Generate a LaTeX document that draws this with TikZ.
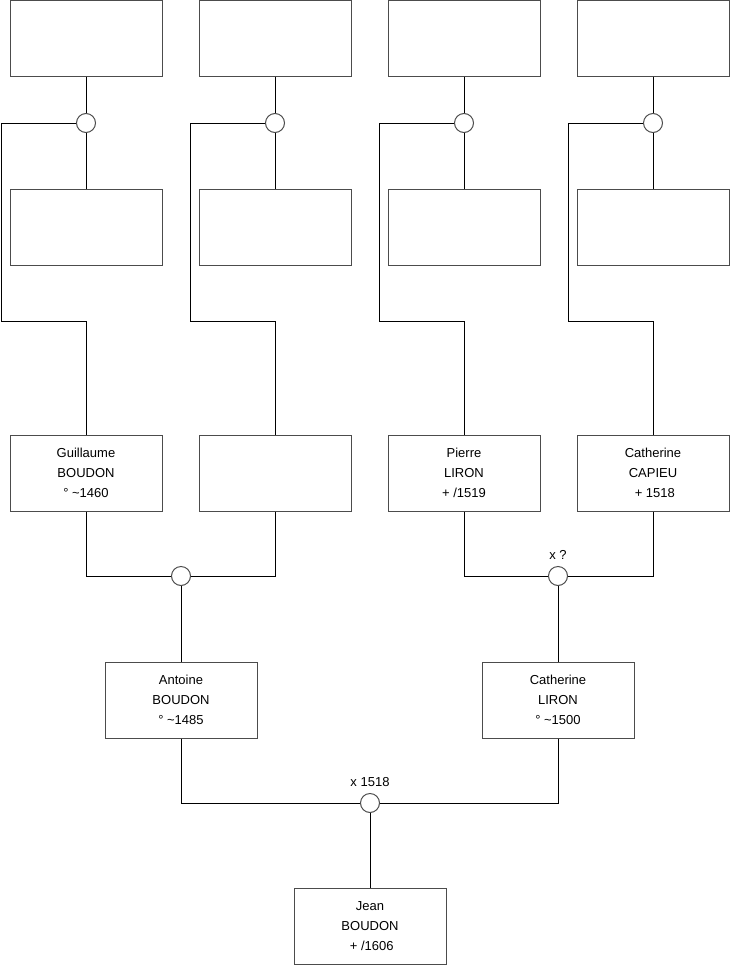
\documentclass[tikz,border=0pt]{standalone}
\usepackage{fontspec}
\setmainfont{Liberation Sans}
\usetikzlibrary{positioning}
\begin{document}
\begin{tikzpicture}[x=0.75pt, y=-0.75pt, line width=0.75pt,
  personne/.style={draw=black!70, fill=white, minimum width=114pt, minimum height=57pt,
    inner sep=0pt, align=center, font=\fontsize{9.75}{15}\selectfont},
  mariage/.style={circle, draw=black!70, fill=white, minimum size=14.25pt, inner sep=0pt},
  texte/.style={font=\fontsize{9.75}{12}\selectfont}]

\useasboundingbox (0,0) rectangle (740,975);

% rangée du haut
\node[personne] (a1) at (86,38) {};
\node[personne] (a2) at (275,38) {};
\node[personne] (a3) at (464,38) {};
\node[personne] (a4) at (653,38) {};

% deuxième rangée
\node[personne] (b1) at (86,227) {};
\node[personne] (b2) at (275,227) {};
\node[personne] (b3) at (464,227) {};
\node[personne] (b4) at (653,227) {};

% grands-parents
\node[personne] (c1) at (86,473) {Guillaume\\BOUDON\\° \textasciitilde1460};
\node[personne] (c2) at (275,473) {};
\node[personne] (c3) at (464,473) {Pierre\\LIRON\\+ /1519};
\node[personne] (c4) at (653,473) {Catherine\\CAPIEU\\~+ 1518};

% parents
\node[personne] (d1) at (181,700) {Antoine\\BOUDON\\° \textasciitilde1485};
\node[personne] (d2) at (558,700) {Catherine\\LIRON\\° \textasciitilde1500};

% enfant
\node[personne] (jean) at (370,926) {Jean\\BOUDON\\~+ /1606};

% mariages
\node[mariage] (m1) at (86,123) {};
\node[mariage] (m2) at (275,123) {};
\node[mariage] (m3) at (464,123) {};
\node[mariage] (m4) at (653,123) {};
\node[mariage] (m5) at (181,576) {};
\node[mariage] (m6) at (558,576) {};
\node[mariage] (m7) at (370,803) {};

\node[texte, above=1pt of m6] (x6) {x ?};
\node[texte, above=1pt of m7] (x7) {x 1518};

% liens du haut
\draw (a1) -- (m1) -- (b1);
\draw (m1.west) -| (1,321) -| (c1.north);
\draw (a2) -- (m2) -- (b2);
\draw (m2.west) -| (190,321) -| (c2.north);
\draw (a3) -- (m3) -- (b3);
\draw (m3.west) -| (379,321) -| (c3.north);
\draw (a4) -- (m4) -- (b4);
\draw (m4.west) -| (568,321) -| (c4.north);

% liens du bas
\draw (c1.south) |- (m5.west);
\draw (c2.south) |- (m5.east);
\draw (m5) -- (d1);
\draw (c3.south) |- (m6.west);
\draw (c4.south) |- (m6.east);
\draw (m6) -- (d2);
\draw (d1.south) |- (m7.west);
\draw (d2.south) |- (m7.east);
\draw (m7) -- (jean);

\end{tikzpicture}
\end{document}
